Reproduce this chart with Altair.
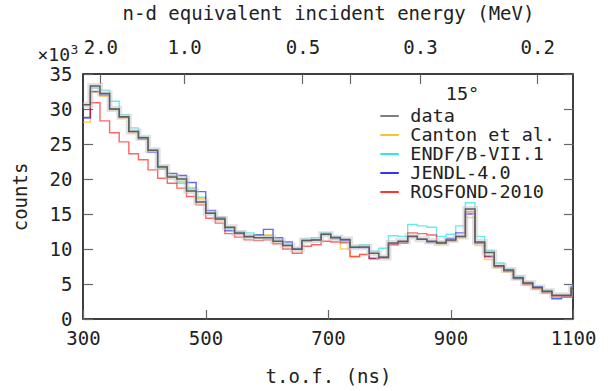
import math
import altair as alt
import pandas as pd

# ---- data (counts in units of 10^3) ----
tof_edges = [300.0, 312.0, 327.7, 343.4, 359.1, 374.8, 390.5, 406.2, 421.9, 437.6,
             453.3, 469.0, 484.7, 500.4, 516.1, 531.8, 547.5, 563.2, 578.9, 594.6,
             610.3, 626.0, 641.7, 657.4, 673.1, 688.8, 704.5, 720.2, 735.9, 751.6,
             767.3, 783.0, 798.7, 814.4, 830.1, 845.8, 861.5, 877.2, 892.9, 908.6,
             924.3, 940.0, 955.7, 971.4, 987.1, 1002.8, 1018.5, 1034.2, 1049.9, 1065.6,
             1081.3, 1097.0]
tof_end = 1100.0

data_counts = [30.6, 33.3, 32.2, 30.0, 28.9, 26.8, 25.9, 24.1, 21.7, 20.3,
               20.0, 18.3, 16.7, 15.1, 14.3, 13.1, 12.3, 11.8, 11.6, 11.6,
               11.1, 10.5, 9.95, 11.2, 11.3, 12.1, 11.6, 11.35, 10.25, 10.3,
               9.4, 8.8, 10.85, 11.1, 11.8, 11.4, 11.1, 10.85, 11.3, 11.8,
               15.7, 11.0, 9.5, 7.6, 7.0, 5.9, 5.15, 4.5, 3.95, 3.4,
               3.4, 4.4]
canton = [28.1, 32.4, 31.8, 29.9, 28.7, 26.6, 25.8, 24.0, 21.5, 20.2,
          19.6, 18.8, 17.2, 15.1, 14.2, 12.9, 12.2, 11.8, 12.0, 12.05,
          10.8, 10.5, 10.0, 11.2, 11.3, 12.0, 11.4, 10.0, 9.0, 9.3,
          8.7, 8.7, 10.6, 10.9, 11.9, 11.4, 10.85, 10.75, 11.1, 11.6,
          14.5, 10.5, 8.5, 7.3, 6.7, 5.8, 5.0, 4.4, 3.8, 3.2,
          3.2, 4.4]
endf = [28.8, 33.0, 32.7, 31.1, 29.2, 27.3, 26.0, 24.2, 21.4, 20.5,
        19.4, 18.6, 17.4, 15.2, 14.3, 13.0, 12.5, 12.3, 12.0, 11.9,
        11.3, 10.7, 10.1, 11.4, 11.6, 12.3, 11.7, 11.0, 10.4, 10.6,
        9.7, 10.1, 11.9, 11.8, 13.5, 13.3, 13.1, 11.8, 12.1, 13.3,
        16.6, 11.8, 9.8, 8.0, 7.1, 6.1, 5.3, 4.6, 4.1, 3.0,
        3.2, 4.6]
jendl = [28.7, 32.5, 32.0, 30.0, 28.8, 26.8, 25.7, 23.8, 21.8, 20.8,
         20.5, 19.5, 18.2, 15.5, 14.5, 12.6, 12.2, 11.7, 12.0, 12.8,
         11.6, 11.0, 10.0, 11.2, 11.3, 12.1, 11.7, 11.2, 10.2, 10.2,
         8.6, 8.9, 10.7, 11.0, 11.8, 11.4, 11.0, 10.9, 11.5, 12.3,
         15.0, 10.9, 8.9, 7.5, 6.9, 5.8, 5.1, 4.6, 3.9, 2.9,
         3.1, 4.6]
rosfond = [28.8, 30.9, 28.3, 26.6, 25.3, 23.6, 22.75, 21.3, 20.1, 19.4,
           18.7, 17.5, 16.3, 14.4, 13.7, 12.2, 11.7, 11.3, 11.2, 11.3,
           10.75, 10.0, 9.4, 10.4, 10.6, 11.1, 11.0, 10.9, 8.9, 9.2,
           8.7, 8.8, 10.6, 10.8, 12.3, 12.2, 12.0, 11.0, 11.2, 11.8,
           15.3, 10.8, 9.0, 7.5, 6.8, 5.7, 4.9, 4.3, 3.7, 3.2,
           3.2, 4.4]

series_names = ["data", "Canton et al.", "ENDF/B-VII.1", "JENDL-4.0", "ROSFOND-2010"]
series_colors = ["#5e5e5e", "#ffb000", "#00e0e0", "#0000ff", "#ff0000"]
legend_title = "15°"

x_ticks = [300, 500, 700, 900, 1100]
y_ticks = [0, 5, 10, 15, 20, 25, 30, 35]
energy_ticks = [2.0, 1.0, 0.5, 0.4, 0.3, 0.2]
energy_labels = ["2.0", "1.0", "0.5", "", "0.3", "0.2"]

# n-d equivalent energy -> time of flight (ns)
energy_tof = [466.5 / math.sqrt(e) - 1.5 for e in energy_ticks]

rows = []
for name, vals in zip(series_names, [data_counts, canton, endf, jendl, rosfond]):
    for t, v in zip(tof_edges + [tof_end], vals + [vals[-1]]):
        rows.append({"tof": t, "counts": v, "series": name})
df = pd.DataFrame(rows)
legend_df = pd.DataFrame({"series": series_names, "row": list(range(len(series_names)))})

FONT = "DejaVu Sans Mono"
FS = 19
LEG_FS = 18.5
TICK = 9.5

label_expr = "".join(
    f"abs(datum.value - {t:.3f}) < 0.5 ? '{lab}' : " for t, lab in zip(energy_tof, energy_labels)
) + "''"

xscale = alt.Scale(domain=[300, 1100], nice=False, zero=False)
yscale = alt.Scale(domain=[0, 35], nice=False)
cscale = alt.Scale(domain=series_names, range=series_colors)
# legend rows: row 0 .. 4 placed inside the plot's upper right
legend_yscale = alt.Scale(domain=[0, 4], range=[42.0, 118.0])

common_axis = dict(labelFont=FONT, labelFontSize=FS, labelColor="#222222",
                   titleFont=FONT, titleFontSize=FS, titleFontWeight="normal",
                   titleColor="#222222", tickColor="#666666", tickWidth=1.2,
                   tickSize=TICK, offset=-TICK, domain=False, grid=False,
                   labelOverlap=False, labelFlush=False)

bottom_axis = alt.Axis(values=x_ticks, orient="bottom", title="t.o.f. (ns)",
                       format="d", labelPadding=10, titlePadding=19,
                       **common_axis)
left_axis = alt.Axis(values=y_ticks, orient="left", title="counts", format="d",
                     labelPadding=11, titlePadding=19, **common_axis)
top_axis = alt.Axis(values=energy_tof, orient="top",
                    title="n-d equivalent incident energy (MeV)",
                    labelExpr=label_expr, labelPadding=17, titlePadding=15,
                    **common_axis)
right_axis = alt.Axis(values=y_ticks, orient="right", labels=False, title="",
                      **common_axis)

base = alt.Chart(df)

models = base.transform_filter(alt.datum.series != "data").mark_line(
    interpolate="step-after", strokeWidth=1.4, opacity=0.6, clip=True
).encode(
    x=alt.X("tof:Q", scale=xscale, axis=bottom_axis),
    y=alt.Y("counts:Q", scale=yscale, axis=left_axis),
    color=alt.Color("series:N", scale=cscale, legend=None),
)

band = base.transform_filter(alt.datum.series == "data").mark_line(
    interpolate="step-after", strokeWidth=6, color="#c4c4c4", opacity=0.5, clip=True
).encode(
    x=alt.X("tof:Q", scale=xscale, axis=None),
    y=alt.Y("counts:Q", scale=yscale, axis=None),
)

dataline = base.transform_filter(alt.datum.series == "data").mark_line(
    interpolate="step-after", strokeWidth=1.5, clip=True
).encode(
    x=alt.X("tof:Q", scale=xscale, axis=None),
    y=alt.Y("counts:Q", scale=yscale, axis=None),
    color=alt.Color("series:N", scale=cscale, legend=None),
)

axes_layer = base.transform_filter(alt.datum.series == "data").mark_line(
    opacity=0
).encode(
    x=alt.X("tof:Q", scale=xscale, axis=top_axis),
    y=alt.Y("counts:Q", scale=yscale, axis=right_axis),
)

leg = alt.Chart(legend_df)
leg_symbols = leg.mark_rule(strokeWidth=1.6).encode(
    x=alt.value(297.3), x2=alt.value(315.8),
    y=alt.Y("row:Q", scale=legend_yscale, axis=None),
    color=alt.Color("series:N", scale=cscale, legend=None),
)
leg_labels = leg.mark_text(
    font=FONT, fontSize=LEG_FS, align="left", baseline="middle", color="#222222"
).encode(
    x=alt.value(327.3),
    y=alt.Y("row:Q", scale=legend_yscale, axis=None),
    text="series:N",
)
leg_title = alt.Chart(pd.DataFrame({"t": [legend_title]})).mark_text(
    font=FONT, fontSize=LEG_FS, align="center", baseline="middle", color="#222222"
).encode(x=alt.value(379.5), y=alt.value(19.5), text="t:N")

times10 = alt.Chart(pd.DataFrame({"t": ["×10"]})).mark_text(
    font=FONT, fontSize=18, align="right", baseline="alphabetic", color="#222222"
).encode(x=alt.value(-13), y=alt.value(-13.5), text="t:N")
power3 = alt.Chart(pd.DataFrame({"t": ["3"]})).mark_text(
    font=FONT, fontSize=13, align="left", baseline="alphabetic", color="#222222"
).encode(x=alt.value(-12.5), y=alt.value(-20), text="t:N")

chart = alt.layer(
    models, band, dataline, axes_layer,
    leg_symbols, leg_labels, leg_title, times10, power3
).resolve_scale(
    x="independent", y="independent"
).resolve_axis(
    x="independent", y="independent"
).properties(
    width=490, height=245,
    autosize=alt.AutoSizeParams(type="none"),
    padding={"left": 83, "top": 74, "right": 41, "bottom": 72},
).configure_view(stroke="black", strokeWidth=1.5)

chart.save("out.html", embed_options={"renderer": "svg", "actions": False})
